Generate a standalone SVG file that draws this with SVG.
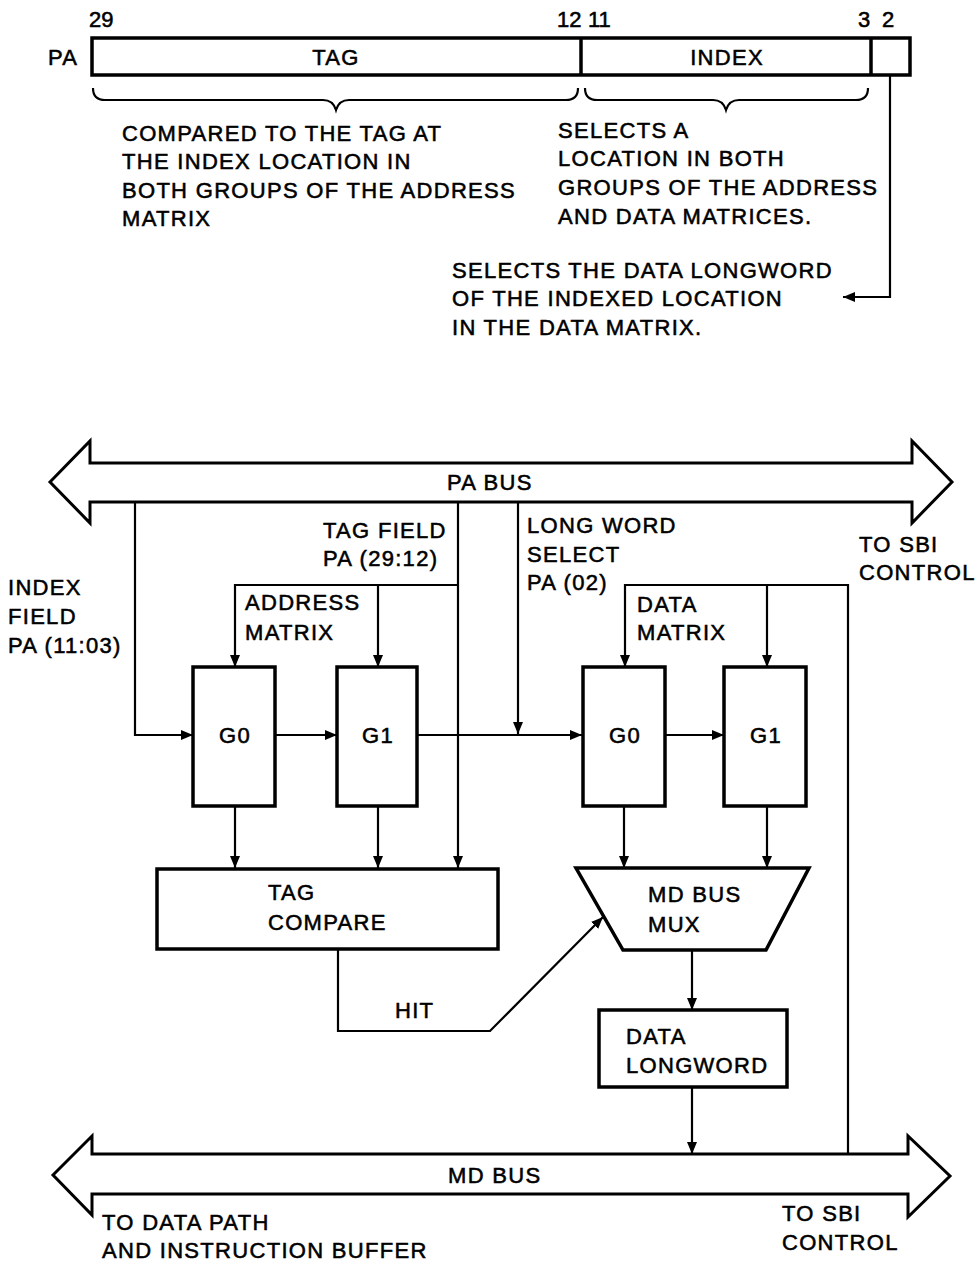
<svg xmlns="http://www.w3.org/2000/svg" width="979" height="1264" viewBox="0 0 979 1264">
<style>
text{font-family:"Liberation Sans",Arial,sans-serif;font-size:22px;letter-spacing:1.3px;fill:#000;stroke:#000;stroke-width:0.55px}
.num{letter-spacing:0}
.box{fill:#fff;stroke:#000;stroke-width:3.5}
.ln{fill:none;stroke:#000;stroke-width:2.2}
.bus{fill:#fff;stroke:#000;stroke-width:3;stroke-linejoin:miter}
.mid{text-anchor:middle}
</style>
<defs>
<marker id="ah" viewBox="0 0 12 10" refX="12" refY="5" markerWidth="12" markerHeight="10" markerUnits="userSpaceOnUse" orient="auto">
<path d="M0,0 L12,5 L0,10 Z" fill="#000"/>
</marker>
</defs>

<g id="register">
<rect class="box" x="92" y="38" width="818" height="37"/>
<line class="box" x1="581" y1="38" x2="581" y2="75"/>
<line class="box" x1="871" y1="38" x2="871" y2="75"/>
<text x="48" y="65">PA</text>
<text x="336" y="65" class="mid">TAG</text>
<text x="727" y="65" class="mid">INDEX</text>
<text x="89" y="27" class="num">29</text>
<text x="557" y="27" class="num">12</text>
<text x="588" y="27" class="num">11</text>
<text x="858" y="27" class="num">3</text>
<text x="882" y="27" class="num">2</text>
<path class="ln" d="M93,88 Q93,100 105,100 L323,100 Q333,100 336,110 Q339,100 349,100 L566,100 Q578,100 578,88"/>
<path class="ln" d="M585,88 Q585,100 597,100 L713,100 Q723,100 726,110 Q729,100 739,100 L856,100 Q868,100 868,88"/>
</g>

<g id="note-tag">
<text x="122" y="141">COMPARED TO THE TAG AT</text>
<text x="122" y="169">THE INDEX LOCATION IN</text>
<text x="122" y="198">BOTH GROUPS OF THE ADDRESS</text>
<text x="122" y="226">MATRIX</text>
</g>
<g id="note-index">
<text x="558" y="138">SELECTS A</text>
<text x="558" y="166">LOCATION IN BOTH</text>
<text x="558" y="195">GROUPS OF THE ADDRESS</text>
<text x="558" y="224">AND DATA MATRICES.</text>
</g>
<g id="note-longword">
<text x="452" y="278">SELECTS THE DATA LONGWORD</text>
<text x="452" y="306">OF THE INDEXED LOCATION</text>
<text x="452" y="335">IN THE DATA MATRIX.</text>
</g>

<g id="pa-bus">
<polygon class="bus" points="50,482 90,441 90,463 912,463 912,441 952,482 912,523 912,502 90,502 90,523"/>
<text x="447" y="490">PA BUS</text>
</g>

<g id="md-bus">
<polygon class="bus" points="53,1175 92,1136 92,1154 908,1154 908,1136 950,1176 908,1217 908,1194 92,1194 92,1215"/>
<text x="448" y="1183">MD BUS</text>
</g>

<g id="connectors">
<path class="ln" d="M890,76 L890,297 L843,297" marker-end="url(#ah)"/>
<path class="ln" d="M135,502 L135,735 L193,735" marker-end="url(#ah)"/>
<path class="ln" d="M458,502 L458,868" marker-end="url(#ah)"/>
<path class="ln" d="M458,585 L235,585 L235,667" marker-end="url(#ah)"/>
<path class="ln" d="M378,585 L378,667" marker-end="url(#ah)"/>
<path class="ln" d="M518,502 L518,734" marker-end="url(#ah)"/>
<path class="ln" d="M275,735 L337,735" marker-end="url(#ah)"/>
<path class="ln" d="M417,735 L582,735" marker-end="url(#ah)"/>
<path class="ln" d="M665,735 L724,735" marker-end="url(#ah)"/>
<path class="ln" d="M848,1154 L848,585 L625,585 L625,667" marker-end="url(#ah)"/>
<path class="ln" d="M767,585 L767,667" marker-end="url(#ah)"/>
<path class="ln" d="M235,806 L235,868" marker-end="url(#ah)"/>
<path class="ln" d="M378,806 L378,868" marker-end="url(#ah)"/>
<path class="ln" d="M624,806 L624,868" marker-end="url(#ah)"/>
<path class="ln" d="M767,806 L767,868" marker-end="url(#ah)"/>
<path class="ln" d="M338,949 L338,1031 L490,1031 L603,917" marker-end="url(#ah)"/>
<path class="ln" d="M692,950 L692,1010" marker-end="url(#ah)"/>
<path class="ln" d="M692,1087 L692,1154" marker-end="url(#ah)"/>
<text x="395" y="1018">HIT</text>
</g>

<g id="labels">
<text x="8" y="595">INDEX</text>
<text x="8" y="624">FIELD</text>
<text x="8" y="653">PA (11:03)</text>
<text x="323" y="538">TAG FIELD</text>
<text x="323" y="566">PA (29:12)</text>
<text x="245" y="610">ADDRESS</text>
<text x="245" y="640">MATRIX</text>
<text x="527" y="533">LONG WORD</text>
<text x="527" y="562">SELECT</text>
<text x="527" y="590">PA (02)</text>
<text x="637" y="612">DATA</text>
<text x="637" y="640">MATRIX</text>
<text x="859" y="552">TO SBI</text>
<text x="859" y="580">CONTROL</text>
<text x="102" y="1230">TO DATA PATH</text>
<text x="102" y="1258">AND INSTRUCTION BUFFER</text>
<text x="782" y="1221">TO SBI</text>
<text x="782" y="1250">CONTROL</text>
</g>

<g id="addr-g0">
<rect class="box" x="193" y="667" width="82" height="139"/>
<text x="235" y="743" class="mid">G0</text>
</g>
<g id="addr-g1">
<rect class="box" x="337" y="667" width="80" height="139"/>
<text x="378" y="743" class="mid">G1</text>
</g>
<g id="data-g0">
<rect class="box" x="583" y="667" width="82" height="139"/>
<text x="625" y="743" class="mid">G0</text>
</g>
<g id="data-g1">
<rect class="box" x="724" y="667" width="82" height="139"/>
<text x="766" y="743" class="mid">G1</text>
</g>
<g id="tag-compare">
<rect class="box" x="157" y="869" width="341" height="80"/>
<text x="268" y="900">TAG</text>
<text x="268" y="930">COMPARE</text>
</g>
<g id="md-bus-mux">
<polygon class="box" points="576,868 809,868 766,950 623,950"/>
<text x="648" y="902">MD BUS</text>
<text x="648" y="932">MUX</text>
</g>
<g id="data-longword">
<rect class="box" x="599" y="1010" width="188" height="77"/>
<text x="626" y="1044">DATA</text>
<text x="626" y="1073">LONGWORD</text>
</g>
</svg>
